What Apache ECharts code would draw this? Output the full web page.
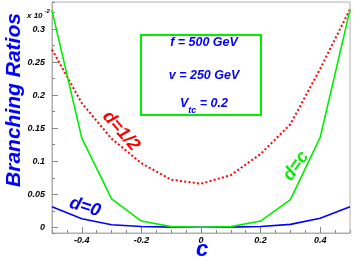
<!DOCTYPE html>
<html><head><meta charset="utf-8">
<script src="https://cdn.jsdelivr.net/npm/echarts@6/dist/echarts.min.js"></script>
<style>html,body{margin:0;padding:0;background:#fff}#c{width:356px;height:262px}</style>
</head><body><div id="c"></div>
<script>
// ---- data ----
const cValues   = [-0.5, -0.4, -0.3, -0.2, -0.1, 0, 0.1, 0.2, 0.3, 0.4, 0.5];
const brD0      = [0.031, 0.013, 0.004, 0.0012, 0.0003, 0, 0.0003, 0.0013, 0.0045, 0.0136, 0.031];
const brDHalf   = [0.269, 0.188, 0.134, 0.097, 0.072, 0.066, 0.079, 0.111, 0.156, 0.240, 0.330];
const brDc      = [0.328, 0.135, 0.043, 0.0095, 0.001, 0, 0.001, 0.0095, 0.042, 0.136, 0.329];
const boxLines  = ['f = 500 GeV', 'v = 250 GeV'];
const vtcValue  = '0.2';
const yTitle    = 'Branching Ratios';
const xTitle    = 'c';

const pairs = (ys) => cValues.map((c, i) => [c, ys[i]]);
const FONT = 'Liberation Sans, Arial, sans-serif';
const GRAY = '#b0b0b0';
const tickLabel = {fontFamily: FONT, fontStyle: 'italic', fontWeight: 'bold', fontSize: 9, color: '#000'};
const Y_MIN = -0.0086, Y_MAX = 0.341;

const chart = echarts.init(document.getElementById('c'), null, {renderer: 'canvas'});
chart.setOption({
  animation: false,
  backgroundColor: '#fff',
  grid: {left: 52, right: 6, top: 2, bottom: 29, show: true, borderColor: GRAY, borderWidth: 1, outerBoundsMode: 'none'},
  xAxis: [
    {type: 'value', min: -0.5, max: 0.5, interval: 0.1, position: 'bottom',
     axisLine: {onZero: false, lineStyle: {color: GRAY}}, axisTick: {inside: true, length: 3, lineStyle: {color: '#888'}},
     minorTick: {show: true, splitNumber: 2, length: 3, lineStyle: {color: '#888'}},
     axisLabel: {show: false}, splitLine: {show: false}},
    {type: 'value', min: -0.5, max: 0.5, minInterval: 0.2, maxInterval: 0.2, position: 'bottom',
     axisLine: {show: false, onZero: false}, axisTick: {inside: true, length: 6, lineStyle: {color: '#888'}},
     axisLabel: Object.assign({margin: 3, showMinLabel: false, showMaxLabel: false}, tickLabel),
     splitLine: {show: false}}
  ],
  yAxis: [
    {type: 'value', min: Y_MIN, max: Y_MAX, minInterval: 0.025, maxInterval: 0.025, position: 'left',
     axisLine: {show: true, onZero: false, lineStyle: {color: GRAY}}, axisTick: {show: true, inside: true, length: 3, lineStyle: {color: '#888'}},
     axisLabel: {show: false}, splitLine: {show: false}},
    {type: 'value', min: Y_MIN, max: Y_MAX, minInterval: 0.05, maxInterval: 0.05, position: 'left', offset: 0,
     axisLine: {show: false, onZero: false}, axisTick: {show: true, inside: true, length: 6, lineStyle: {color: '#888'}},
     axisLabel: Object.assign({margin: 7, showMinLabel: false, showMaxLabel: false}, tickLabel),
     splitLine: {show: false}}
  ],
  series: [
    {type: 'line', name: 'd=0', data: pairs(brD0), xAxisIndex: 0, yAxisIndex: 0, symbol: 'none',
     lineStyle: {color: '#0000ff', width: 1.6}},
    {type: 'line', name: 'd=1/2', data: pairs(brDHalf), xAxisIndex: 0, yAxisIndex: 0, symbol: 'none',
     lineStyle: {color: '#ff0000', width: 2, type: [2, 2.3]}},
    {type: 'line', name: 'd=c', data: pairs(brDc), xAxisIndex: 0, yAxisIndex: 0, symbol: 'none',
     lineStyle: {color: '#00ee00', width: 1.6}}
  ],
  graphic: [
    {type: 'rect', shape: {x: 141, y: 35, width: 120, height: 80}, style: {fill: null, stroke: '#00ee00', lineWidth: 2}},
    {type: 'text', x: 204, y: 43, style: {text: boxLines[0], align: 'center', verticalAlign: 'middle', fill: '#0000ff', font: 'italic bold 12.5px ' + FONT}},
    {type: 'text', x: 204, y: 76, style: {text: boxLines[1], align: 'center', verticalAlign: 'middle', fill: '#0000ff', font: 'italic bold 12.5px ' + FONT}},
    {type: 'text', x: 204, y: 104, style: {
      text: '{a|V}{s|tc}{a| = ' + vtcValue + '}', align: 'center', verticalAlign: 'middle', fill: '#0000ff',
      rich: {
        a: {fontFamily: FONT, fontStyle: 'italic', fontWeight: 'bold', fontSize: 12.5, lineHeight: 22, verticalAlign: 'middle', fill: '#0000ff'},
        s: {fontFamily: FONT, fontStyle: 'italic', fontWeight: 'bold', fontSize: 9, lineHeight: 9, verticalAlign: 'bottom', fill: '#0000ff'}
      }}},
    {type: 'text', x: 121, y: 131, rotation: -49 * Math.PI / 180, style: {text: 'd=1/2', align: 'center', verticalAlign: 'middle', fill: '#ff0000', font: 'italic bold 18px ' + FONT}},
    {type: 'text', x: 296, y: 166, rotation: 55 * Math.PI / 180, style: {text: 'd=c', align: 'center', verticalAlign: 'middle', fill: '#00ee00', font: 'italic bold 18px ' + FONT}},
    {type: 'text', x: 85, y: 207, rotation: -17 * Math.PI / 180, style: {text: 'd=0', align: 'center', verticalAlign: 'middle', fill: '#0000ff', font: 'italic bold 18px ' + FONT}},
    {type: 'text', x: 14, y: 100, rotation: Math.PI / 2, style: {text: yTitle, align: 'center', verticalAlign: 'middle', fill: '#0000ff', font: 'italic bold 21px ' + FONT}},
    {type: 'text', x: 202, y: 250, style: {text: xTitle, align: 'center', verticalAlign: 'middle', fill: '#0000ff', font: 'italic bold 22px ' + FONT}},
    {type: 'text', x: 27, y: 8, style: {
      text: '{b|x 10}{p|-2}', align: 'left', verticalAlign: 'top',
      rich: {
        b: {fontFamily: FONT, fontStyle: 'italic', fontWeight: 'bold', fontSize: 8, lineHeight: 12, verticalAlign: 'bottom', fill: '#000'},
        p: {fontFamily: FONT, fontStyle: 'italic', fontWeight: 'bold', fontSize: 6, lineHeight: 6, verticalAlign: 'top', fill: '#000', padding: [0, 0, 0, 2]}
      }}}
  ]
});
</script>
</body></html>
